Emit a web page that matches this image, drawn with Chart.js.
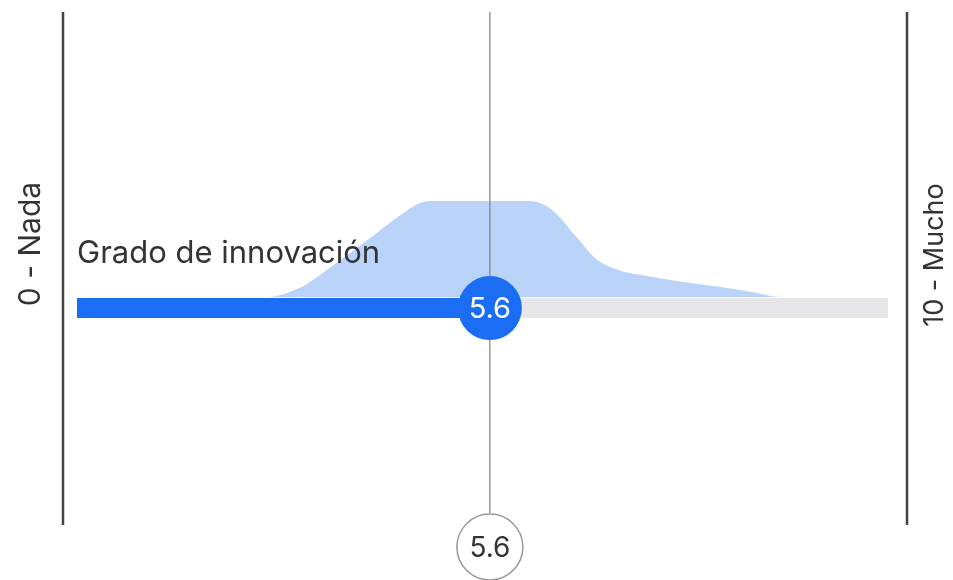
<!DOCTYPE html>
<html lang="es">
<head>
<meta charset="UTF-8">
<title>Grado de innovación</title>
<script src="https://cdn.jsdelivr.net/npm/chart.js@4.4.1/dist/chart.umd.min.js"></script>
<style>
  body { margin: 0; background: #fff; }
  canvas { display: block; }
</style>
</head>
<body>
<canvas id="chart" width="953" height="580"></canvas>
<script>
// valores
var score = 5.6;
var trackEnd = 11;
var densityX = [0, 2.55, 3.03, 3.47, 3.93, 4.38, 4.65, 4.83, 6.14, 6.44, 6.77, 7.05, 7.35, 7.73, 8.2, 8.68, 9.17, 9.55, 11];
var densityY = [0, 0, 0.10, 0.33, 0.59, 0.85, 0.98, 1, 1, 0.91, 0.63, 0.39, 0.28, 0.22, 0.16, 0.11, 0.05, 0, 0];
var title = 'Grado de innovación';
var minLabel = '0 - Nada';
var maxLabel = '10 - Mucho';
var scoreLabel = '5.6';

var trackY = -0.115;
var yMin = -2.375, yMax = 2.97;
var lineBottom = -2.25;

var font = 'Inter, "Noto Sans", sans-serif';

var density = densityX.map(function (x, i) { return { x: x, y: densityY[i] }; });

var decor = {
    id: 'decor',
    afterDraw: function (chart) {
        var c = chart.ctx, a = chart.chartArea;
        var x = chart.scales.x.getPixelForValue(score);
        c.save();
        // lineas laterales
        c.strokeStyle = '#444';
        c.lineWidth = 2.5;
        c.beginPath();
        c.moveTo(63, a.top); c.lineTo(63, a.bottom);
        c.moveTo(907, a.top); c.lineTo(907, a.bottom);
        c.stroke();

        c.fillStyle = '#333';
        c.font = '400 30px ' + font;
        c.textAlign = 'center';
        c.textBaseline = 'middle';
        c.save();
        c.translate(31, 244); c.rotate(-Math.PI / 2);
        c.fillText(minLabel, 0, 0);
        c.restore();
        c.font = '400 27px ' + font;
        c.save();
        c.translate(935, 255); c.rotate(-Math.PI / 2);
        c.fillText(maxLabel, 0, 0);
        c.restore();

        c.textAlign = 'left';
        c.textBaseline = 'alphabetic';
        c.font = '400 31px ' + font;
        c.fillText(title, a.left, 263);

        // circulo inferior
        c.beginPath();
        c.arc(x, 547, 33, 0, Math.PI * 2);
        c.fillStyle = '#fff';
        c.fill();
        c.strokeStyle = '#999';
        c.lineWidth = 1.5;
        c.stroke();
        c.fillStyle = '#333';
        c.font = '400 28px ' + font;
        c.textAlign = 'center';
        c.textBaseline = 'middle';
        c.fillText(scoreLabel, x, 549);

        // etiqueta del marcador
        var y = chart.scales.y.getPixelForValue(trackY);
        c.fillStyle = '#fff';
        c.font = '400 29px ' + font;
        c.fillText(scoreLabel, x, y + 1);
        c.restore();
    }
};

new Chart(document.getElementById('chart'), {
    type: 'line',
    data: {
        datasets: [{
            data: [{ x: score, y: trackY }],
            showLine: false,
            pointRadius: 32,
            pointBackgroundColor: '#1b6ef3',
            pointBorderWidth: 0,
            order: 0
        }, {
            data: [{ x: 0, y: trackY }, { x: score, y: trackY }],
            borderColor: '#1b6ef3',
            borderWidth: 20,
            borderCapStyle: 'butt',
            pointRadius: 0,
            order: 1
        }, {
            data: [{ x: score, y: yMax }, { x: score, y: lineBottom }],
            borderColor: '#7f7f7f',
            borderWidth: 1.2,
            pointRadius: 0,
            order: 2
        }, {
            data: [{ x: 0, y: trackY }, { x: trackEnd, y: trackY }],
            borderColor: '#e6e6e8',
            borderWidth: 20,
            borderCapStyle: 'butt',
            pointRadius: 0,
            order: 3
        }, {
            data: density,
            borderWidth: 0,
            borderColor: 'rgba(0,0,0,0)',
            backgroundColor: '#bad3f9',
            fill: 'origin',
            cubicInterpolationMode: 'monotone',
            pointRadius: 0,
            order: 4
        }]
    },
    options: {
        responsive: false,
        animation: false,
        clip: false,
        layout: { autoPadding: false, padding: { left: 77, right: 65, top: 12, bottom: 55 } },
        plugins: { legend: { display: false }, tooltip: { enabled: false } },
        scales: {
            x: { type: 'linear', min: 0, max: trackEnd, display: false },
            y: { min: yMin, max: yMax, display: false }
        }
    },
    plugins: [decor]
});
</script>
</body>
</html>
